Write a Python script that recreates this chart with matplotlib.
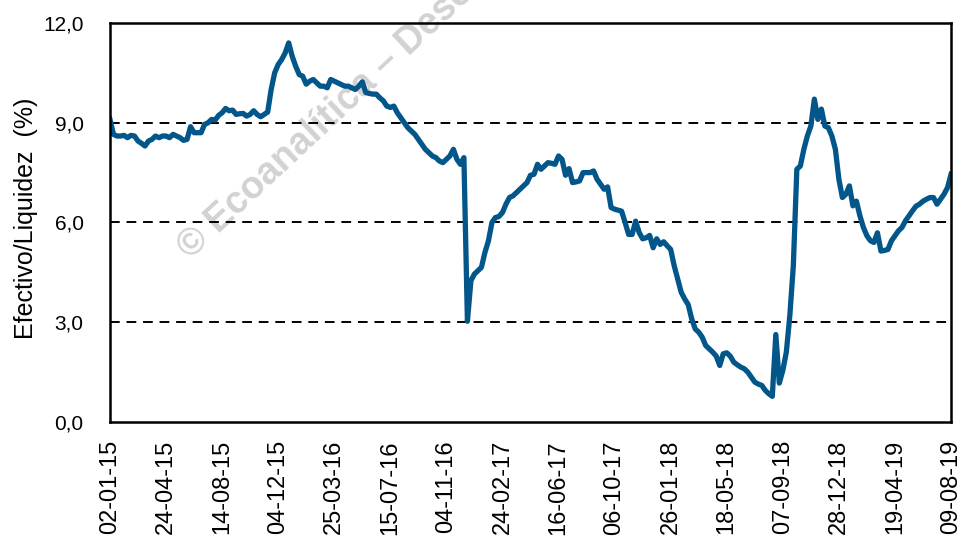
import pandas as pd
import matplotlib
matplotlib.use('Agg')
import matplotlib.pyplot as plt

matplotlib.rcParams['font.family'] = ['Liberation Sans', 'DejaVu Sans']
matplotlib.rcParams['font.size'] = 15

# weekly series, 02-01-2015 .. 09-08-2019
start_date = '2015-01-02'
ratio = [
    9.1, 8.65, 8.6, 8.6, 8.62, 8.55, 8.62, 8.6, 8.45, 8.38,
    8.3, 8.45, 8.5, 8.6, 8.55, 8.6, 8.6, 8.55, 8.65, 8.6,
    8.55, 8.47, 8.5, 8.88, 8.7, 8.7, 8.7, 8.95, 9.0, 9.1,
    9.08, 9.22, 9.3, 9.43, 9.36, 9.38, 9.25, 9.27, 9.28, 9.2,
    9.25, 9.36, 9.25, 9.18, 9.25, 9.32, 10.0, 10.5, 10.75, 10.9,
    11.1, 11.4, 11.0, 10.7, 10.45, 10.4, 10.16, 10.25, 10.3, 10.2,
    10.1, 10.1, 10.05, 10.3, 10.25, 10.2, 10.15, 10.1, 10.1, 10.05,
    10.0, 10.1, 10.23, 9.91, 9.88, 9.86, 9.86, 9.75, 9.66, 9.5,
    9.46, 9.5, 9.3, 9.15, 9.0, 8.85, 8.75, 8.65, 8.5, 8.35,
    8.2, 8.1, 8.0, 7.95, 7.85, 7.8, 7.9, 8.0, 8.2, 7.9,
    7.75, 7.95, 3.03, 4.25, 4.45, 4.55, 4.65, 5.1, 5.45, 6.0,
    6.15, 6.18, 6.3, 6.55, 6.75, 6.8, 6.9, 7.0, 7.1, 7.2,
    7.42, 7.45, 7.75, 7.6, 7.7, 7.8, 7.78, 7.75, 8.0, 7.9,
    7.42, 7.62, 7.2, 7.22, 7.25, 7.5, 7.5, 7.5, 7.55, 7.3,
    7.15, 7.0, 7.07, 6.45, 6.4, 6.37, 6.34, 6.0, 5.64, 5.64,
    6.04, 5.7, 5.51, 5.54, 5.61, 5.24, 5.51, 5.34, 5.42, 5.3,
    5.19, 4.7, 4.3, 3.9, 3.7, 3.53, 3.1, 2.8, 2.7, 2.55,
    2.3, 2.2, 2.1, 1.98, 1.7, 2.05, 2.08, 1.98, 1.8, 1.72,
    1.65, 1.6, 1.5, 1.35, 1.2, 1.14, 1.1, 0.95, 0.85, 0.77,
    2.63, 1.17, 1.55, 2.1, 3.2, 4.7, 7.6, 7.7, 8.2, 8.6,
    8.9, 9.71, 9.1, 9.41, 8.9, 8.85, 8.6, 8.2, 7.3, 6.75,
    6.85, 7.1, 6.5, 6.64, 6.2, 5.85, 5.6, 5.45, 5.4, 5.69,
    5.14, 5.16, 5.19, 5.45, 5.6, 5.75, 5.85, 6.05, 6.2, 6.35,
    6.49, 6.55, 6.64, 6.7, 6.75, 6.75, 6.55, 6.7, 6.85, 7.05,
    7.45,
]
dates = pd.date_range(start_date, periods=len(ratio), freq='7D')
tick_step = 16
y_ticks = [0, 3, 6, 9, 12]
y_labels = ['0,0', '3,0', '6,0', '9,0', '12,0']

fig = plt.figure(figsize=(9.62, 5.37), dpi=100)
ax = fig.add_axes([0.1143, 0.2142, 0.8743, 0.7430])
ax.patch.set_visible(False)

# watermark, runs off the top edge like in the original
fig.text(0.191, 0.529, '© Ecoanalítica – Descarga', rotation=43,
         rotation_mode='anchor', ha='left', va='center',
         fontsize=27, fontweight='bold', color='#d2d2d2', zorder=-1)

for v in y_ticks[1:]:
    ax.axhline(v, color='black', lw=1.4, ls=(0, (5, 3.5)), zorder=1)

ax.plot(dates, ratio, color='#02568a', lw=3.8, solid_joinstyle='round', zorder=3)

ax.set_xlim(dates[0], dates[-1])
ax.set_ylim(0, 12)
ax.set_yticks(y_ticks)
ax.set_yticklabels(y_labels)
ax.set_xticks(dates[::tick_step])
ax.set_xticklabels([d.strftime('%d-%m-%y') for d in dates[::tick_step]], rotation=90)
ax.tick_params(axis='y', length=0, pad=19, labelsize=15)
ax.tick_params(axis='x', length=0, pad=13, labelsize=17)
ax.set_ylabel('Efectivo/Liquidez  (%)', fontsize=18)
ax.yaxis.set_label_coords(-0.0856, 0.511)

for s in ax.spines.values():
    s.set_linewidth(1.8)
    s.set_zorder(4)

fig.savefig('out.png', dpi=100)
